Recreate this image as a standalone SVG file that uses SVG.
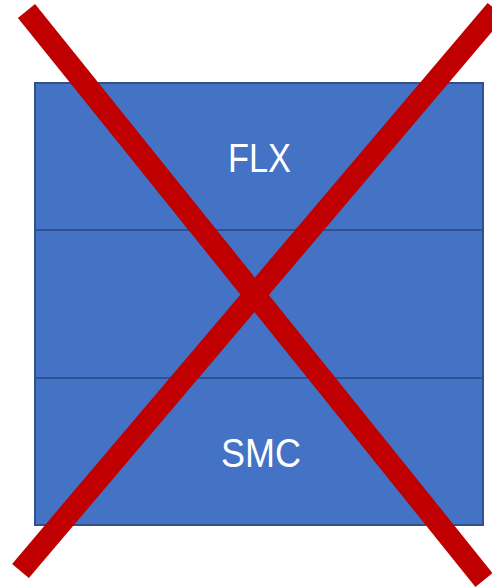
<svg xmlns="http://www.w3.org/2000/svg" width="492" height="588" viewBox="0 0 492 588">
<style>
.box{fill:#4472C4;stroke:#2F528F;stroke-width:2}
.lbl{fill:#FFFFFF;font-family:"Liberation Sans","Open Sans",Arial,sans-serif;font-size:41px;text-anchor:middle}
.cross{stroke:#C00000;stroke-width:22;stroke-linecap:butt;fill:none}
</style>
<rect width="492" height="588" fill="#FFFFFF"/>
<g id="flx">
<rect class="box" x="35" y="83" width="448" height="147"/>
<text class="lbl" x="259.5" y="172" textLength="63" lengthAdjust="spacingAndGlyphs">FLX</text>
</g>
<g id="middle">
<rect class="box" x="35" y="230" width="448" height="148"/>
</g>
<g id="smc">
<rect class="box" x="35" y="378" width="448" height="147"/>
<text class="lbl" x="261" y="467" textLength="80" lengthAdjust="spacingAndGlyphs">SMC</text>
</g>
<g id="connectors">
<line class="cross" x1="26.5" y1="11" x2="484" y2="580"/>
<line class="cross" x1="20.5" y1="571" x2="496" y2="10"/>
</g>
</svg>
